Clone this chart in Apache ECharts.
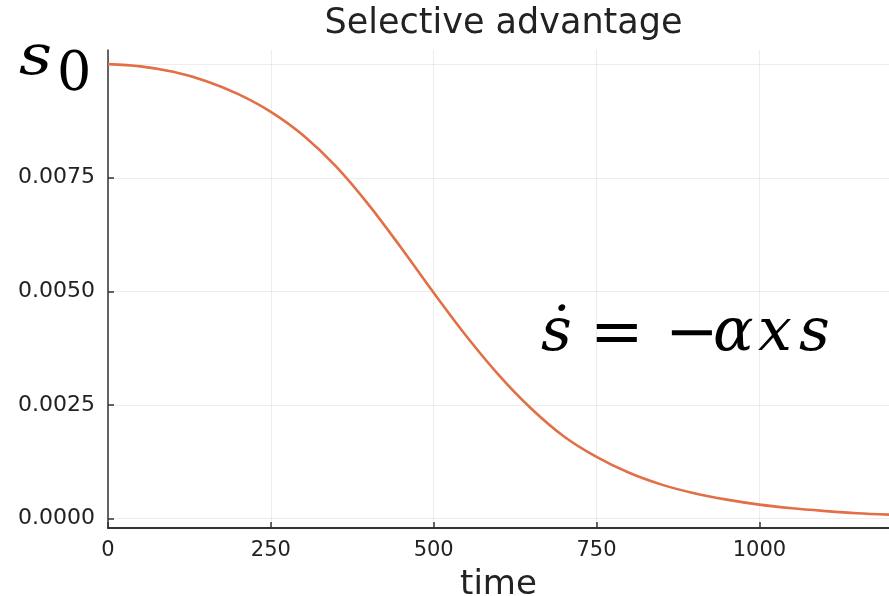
<!DOCTYPE html>
<html>
<head>
<meta charset="utf-8">
<script src="https://cdn.jsdelivr.net/npm/echarts@6/dist/echarts.min.js"></script>
<style>
html,body{margin:0;padding:0;background:#fff;}
#chart{width:889px;height:596px;}
</style>
</head>
<body>
<div id="chart"></div>
<script>
// ---- data ----
const times = [0, 50, 100, 150, 200, 250, 300, 350, 400, 450, 500, 550, 600, 650, 700, 750, 800, 850, 900, 950, 1000, 1050, 1100, 1150, 1200];
const selAdv = [0.01000, 0.00995, 0.00983, 0.00963, 0.00934, 0.00895, 0.00843, 0.00775, 0.00691, 0.00596, 0.00497, 0.00402, 0.00316, 0.00242, 0.00181, 0.00136, 0.00101, 0.00075, 0.00056, 0.00042, 0.00031, 0.00023, 0.00017, 0.00012, 0.00009];
const xTicks = [0, 250, 500, 750, 1000];
const yTicks = [0, 0.0025, 0.005, 0.0075, 0.01];
const yLabelTicks = [0, 0.0025, 0.005, 0.0075];
const titleText = 'Selective advantage';
const xName = 'time';

const chart = echarts.init(document.getElementById('chart'), null, {renderer: 'canvas'});
const font = 'DejaVu Sans';
const gridCol = 'rgba(0,0,0,0.07)';
const axisCol = '#333';
const mathI = {fontFamily: 'DejaVu Serif', fontStyle: 'italic', fontSize: 60, fill: '#000'};
const mathN = {fontFamily: 'DejaVu Serif', fontSize: 60, fill: '#000'};

chart.setOption({
  animation: false,
  backgroundColor: '#fff',
  title: {
    text: titleText,
    left: 498.5,
    textAlign: 'center',
    top: 1,
    textStyle: {fontFamily: font, fontSize: 35, fontWeight: 'normal', color: '#222'}
  },
  grid: {left: 108, top: 50, right: 0, bottom: 68, containLabel: false, outerBoundsMode: 'none'},
  xAxis: {
    type: 'value',
    min: 0, max: 1199,
    name: xName,
    nameLocation: 'middle',
    nameGap: 40,
    nameTextStyle: {fontFamily: font, fontSize: 34, color: '#222'},
    axisLine: {show: true, onZero: false, lineStyle: {color: axisCol, width: 2}},
    axisTick: {show: true, inside: true, length: 6, customValues: xTicks, lineStyle: {color: axisCol, width: 1.5}},
    axisLabel: {customValues: xTicks, margin: 12, fontFamily: font, fontSize: 21, color: '#222', formatter: v => String(v)},
    splitLine: {show: true, lineStyle: {color: gridCol, width: 1}}
  },
  yAxis: {
    type: 'value',
    min: -0.000204, max: 0.01031,
    axisLine: {show: true, onZero: false, lineStyle: {color: axisCol, width: 1.5}},
    axisTick: {show: true, inside: true, length: 6, customValues: yTicks, lineStyle: {color: axisCol, width: 1.5}},
    axisLabel: {customValues: yLabelTicks, margin: 13, fontFamily: font, fontSize: 22, color: '#222', formatter: v => v.toFixed(4)},
    splitLine: {show: true, lineStyle: {color: gridCol, width: 1}}
  },
  series: [{
    type: 'line',
    data: times.map((t, i) => [t, selAdv[i]]),
    smooth: 0.35,
    showSymbol: false,
    lineStyle: {color: '#e26f46', width: 2.6},
    clip: true
  }],
  graphic: [
    {type: 'text', x: 19, y: 31, scaleX: 1.15, style: Object.assign({text: 's'}, mathI, {fontSize: 56})},
    {type: 'text', left: 57, top: 49, style: Object.assign({text: '0'}, mathN, {fontSize: 54})},
    {type: 'text', left: 541, top: 304, style: Object.assign({text: 'ṡ'}, mathI)},
    {type: 'text', left: 590, top: 304, style: Object.assign({text: '='}, mathN, {fontSize: 64})},
    {type: 'text', left: 665, top: 304, style: Object.assign({text: '−'}, mathN, {fontSize: 64})},
    {type: 'text', left: 713, top: 304, style: Object.assign({text: 'α'}, mathI)},
    {type: 'text', left: 758, top: 304, style: Object.assign({text: 'x'}, mathI)},
    {type: 'text', left: 799, top: 304, style: Object.assign({text: 's'}, mathI)}
  ]
});
</script>
</body>
</html>
